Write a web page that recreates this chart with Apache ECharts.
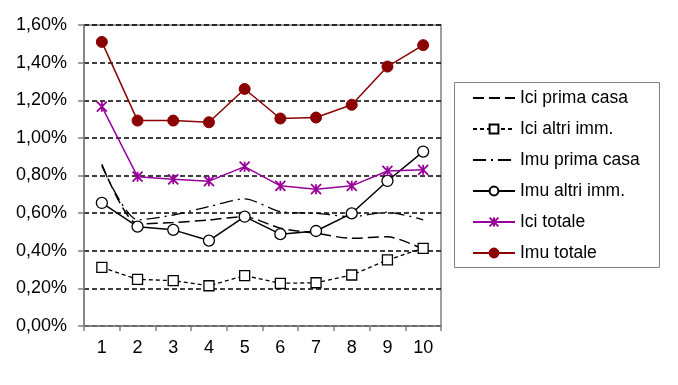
<!DOCTYPE html>
<html>
<head>
<meta charset="utf-8">
<script src="https://cdn.jsdelivr.net/npm/echarts@6/dist/echarts.min.js"></script>
<style>html,body{margin:0;padding:0;background:#fff;}#c{width:678px;height:385px;}</style>
</head>
<body>
<div id="c"></div>
<script>
const categories = ['1','2','3','4','5','6','7','8','9','10'];
const yTicks = [0, 0.2, 0.4, 0.6, 0.8, 1.0, 1.2, 1.4, 1.6];
const iciPrimaCasa = [0.86, 0.543, 0.550, 0.564, 0.581, 0.520, 0.493, 0.466, 0.475, 0.408];
const iciAltriImm = [0.312, 0.248, 0.241, 0.214, 0.268, 0.227, 0.230, 0.271, 0.351, 0.413];
const imuPrimaCasa = [0.85, 0.564, 0.590, 0.635, 0.676, 0.608, 0.599, 0.581, 0.605, 0.564];
const imuAltriImm = [0.654, 0.528, 0.511, 0.454, 0.581, 0.488, 0.505, 0.599, 0.771, 0.927];
const iciTotale = [1.166, 0.794, 0.780, 0.770, 0.847, 0.745, 0.727, 0.745, 0.824, 0.830];
const imuTotale = [1.510, 1.092, 1.092, 1.083, 1.260, 1.103, 1.108, 1.176, 1.379, 1.493];

const FONT = '"Liberation Sans", Arial, sans-serif';
const chart = echarts.init(document.getElementById('c'));
const star = 'path://M0,0L10,10M10,0L0,10M5,0L5,10';
const hidden = { color: 'rgba(0,0,0,0)', borderColor: 'rgba(0,0,0,0)', borderWidth: 0 };
chart.setOption({
  animation: false,
  backgroundColor: '#fff',
  textStyle: { fontFamily: FONT },
  grid: { left: 84, top: 25, right: 237, bottom: 59, show: true, borderColor: '#808080', borderWidth: 1.5 },
  graphic: [{ type: 'rect', shape: { x: 454.5, y: 82.5, width: 205, height: 185 }, style: { fill: 'none', stroke: '#808080', lineWidth: 1 }, z: 0 }],
  legend: {
    orient: 'vertical', left: 467, top: 84,
    itemWidth: 42, itemHeight: 11, itemGap: 13,
    textStyle: { fontFamily: FONT, fontSize: 17.5, color: '#000' },
    data: [
      { name: 'Ici prima casa', itemStyle: hidden },
      { name: 'Ici altri imm.' },
      { name: 'Imu prima casa', itemStyle: hidden },
      { name: 'Imu altri imm.' },
      { name: 'Ici totale' },
      { name: 'Imu totale' }
    ]
  },
  xAxis: {
    type: 'category', data: categories, boundaryGap: true,
    axisLine: { lineStyle: { color: '#808080', width: 1.5 } },
    axisTick: { show: true, length: 5, lineStyle: { color: '#808080', width: 1.5 } },
    axisLabel: { fontFamily: FONT, fontSize: 18, color: '#000', margin: 13 },
    splitLine: { show: false }
  },
  yAxis: {
    type: 'value', min: 0, max: 1.6, interval: 0.2,
    axisLine: { show: true, lineStyle: { color: '#808080', width: 1.5 } },
    axisTick: { show: true, length: 6, lineStyle: { color: '#808080', width: 1.5 } },
    axisLabel: {
      fontFamily: FONT, fontSize: 18, color: '#000', margin: 17,
      formatter: v => { const t = yTicks.find(x => Math.abs(x - v) < 1e-9); return (t !== undefined ? t : v).toFixed(2).replace('.', ',') + '%'; }
    },
    splitLine: { show: true, lineStyle: { color: '#000', type: [5, 3], width: 1.5 } }
  },
  series: [
    { name: 'Ici prima casa', type: 'line', data: iciPrimaCasa, smooth: 0.25, symbol: 'none',
      lineStyle: { color: '#000', width: 1.5, type: [11, 5] }, itemStyle: { color: '#000' } },
    { name: 'Ici altri imm.', type: 'line', data: iciAltriImm, symbol: 'rect', symbolSize: 10,
      lineStyle: { color: '#000', width: 1.3, type: [4, 3] }, itemStyle: { color: '#fff', borderColor: '#000', borderWidth: 1.3 } },
    { name: 'Imu prima casa', type: 'line', data: imuPrimaCasa, smooth: 0.25, symbol: 'none',
      lineStyle: { color: '#000', width: 1.3, type: [13, 5, 2, 5] }, itemStyle: { color: '#000' } },
    { name: 'Imu altri imm.', type: 'line', data: imuAltriImm, symbol: 'circle', symbolSize: 11,
      lineStyle: { color: '#000', width: 1.5 }, itemStyle: { color: '#fff', borderColor: '#000', borderWidth: 1.3 } },
    { name: 'Ici totale', type: 'line', data: iciTotale, symbol: star, symbolSize: 10,
      lineStyle: { color: '#990099', width: 1.5 }, itemStyle: { color: '#990099', borderColor: '#990099', borderWidth: 1.8 } },
    { name: 'Imu totale', type: 'line', data: imuTotale, symbol: 'circle', symbolSize: 11,
      lineStyle: { color: '#8B0000', width: 1.5 }, itemStyle: { color: '#8B0000', borderColor: '#8B0000', borderWidth: 1 } }
  ]
});
</script>
</body>
</html>
